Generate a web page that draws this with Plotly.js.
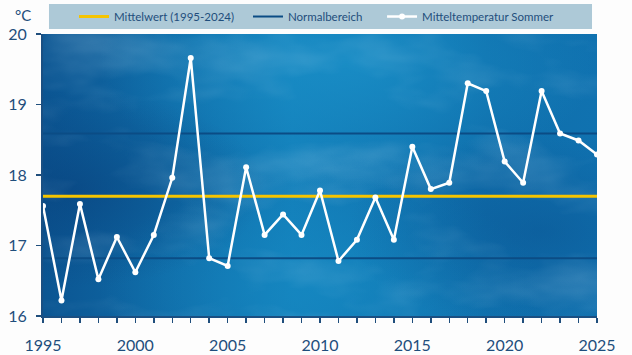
<!DOCTYPE html>
<html>
<head>
<meta charset="utf-8">
<script src="https://cdn.plot.ly/plotly-3.0.1.min.js"></script>
<style>html,body{margin:0;padding:0;background:#fdfdfd;}#chart{width:632px;height:355px;}</style>
</head>
<body>
<div id="chart"></div>
<script>
// ---- data ----
const years = [1995,1996,1997,1998,1999,2000,2001,2002,2003,2004,2005,2006,2007,2008,2009,2010,
               2011,2012,2013,2014,2015,2016,2017,2018,2019,2020,2021,2022,2023,2024,2025];
const summerTemp = [17.56,16.22,17.59,16.52,17.12,16.62,17.15,17.96,19.66,16.82,16.71,18.11,17.15,17.44,17.15,17.78,
                    16.78,17.08,17.68,17.08,18.40,17.80,17.89,19.30,19.19,18.19,17.89,19.19,18.59,18.49,18.29];
const spanYears = [1995, 2025];
const meanValue = 17.70;          // Mittelwert (1995-2024)
const normalLow = 16.82;          // Normalbereich untere Grenze
const normalHigh = 18.59;         // Normalbereich obere Grenze
const xTickVals = [1995,2000,2005,2010,2015,2020,2025];
const yTickVals = [16,17,18,19,20];
const names = ["Mittelwert (1995-2024)", "Normalbereich", "Mitteltemperatur Sommer"];

const textColor = '#1f4e7c';
const fontFam = 'Lato, "Open Sans", sans-serif';

// background image (cloudy blue sky)
const svg = `<svg xmlns='http://www.w3.org/2000/svg' width='554' height='282' viewBox='0 0 554 282' preserveAspectRatio='none'>
<defs>
<linearGradient id='g' x1='0' y1='0' x2='1' y2='0'>
<stop offset='0' stop-color='#0b5592'/>
<stop offset='0.45' stop-color='#137fba'/>
<stop offset='0.8' stop-color='#0f6eab'/>
<stop offset='1' stop-color='#1072b0'/>
</linearGradient>
<radialGradient id='r1' cx='0.55' cy='0.1' r='0.45'><stop offset='0' stop-color='#1a90c8' stop-opacity='0.8'/><stop offset='1' stop-color='#1a90c8' stop-opacity='0'/></radialGradient>
<radialGradient id='r2' cx='0.5' cy='0.9' r='0.4'><stop offset='0' stop-color='#168ac3' stop-opacity='0.7'/><stop offset='1' stop-color='#168ac3' stop-opacity='0'/></radialGradient>
<radialGradient id='r3' cx='0.05' cy='0.55' r='0.35'><stop offset='0' stop-color='#083f7a' stop-opacity='0.55'/><stop offset='1' stop-color='#083f7a' stop-opacity='0'/></radialGradient>
<radialGradient id='r4' cx='0.9' cy='0.7' r='0.35'><stop offset='0' stop-color='#0a5190' stop-opacity='0.5'/><stop offset='1' stop-color='#0a5190' stop-opacity='0'/></radialGradient>
<filter id='f' x='0' y='0' width='100%' height='100%'><feTurbulence type='fractalNoise' baseFrequency='0.008 0.018' numOctaves='4' seed='5'/><feColorMatrix values='0 0 0 0 0.75  0 0 0 0 0.9  0 0 0 0 1  0.4 0 0 0 -0.19'/></filter>
</defs>
<rect width='554' height='282' fill='url(#g)'/>
<rect width='554' height='282' fill='url(#r1)'/>
<rect width='554' height='282' fill='url(#r2)'/>
<rect width='554' height='282' fill='url(#r3)'/>
<rect width='554' height='282' fill='url(#r4)'/>
<rect width='554' height='282' filter='url(#f)'/>
</svg>`;
const bgUri = 'data:image/svg+xml;charset=utf-8,' + encodeURIComponent(svg);

const traces = [
  {
    x: spanYears, y: [meanValue, meanValue],
    type: 'scatter', mode: 'lines', name: names[0], legend: 'legend',
    line: {color: '#f5c400', width: 3}, hoverinfo: 'skip'
  },
  {
    x: [spanYears[0], spanYears[1], null, spanYears[0], spanYears[1]],
    y: [normalLow, normalLow, null, normalHigh, normalHigh],
    type: 'scatter', mode: 'lines', name: names[1], legend: 'legend2',
    line: {color: '#0b4c85', width: 2}, hoverinfo: 'skip'
  },
  {
    x: years, y: summerTemp,
    type: 'scatter', mode: 'lines+markers', name: names[2], legend: 'legend3',
    line: {color: '#ffffff', width: 2.5},
    marker: {color: '#ffffff', size: 6},
    hoverinfo: 'skip'
  }
];

const legendBase = {
  orientation: 'h', yanchor: 'middle', xanchor: 'left', y: 1.062,
  bgcolor: 'rgba(0,0,0,0)', font: {family: fontFam, size: 11.5, color: textColor},
  itemwidth: 30, tracegroupgap: 0
};

const layout = {
  width: 632, height: 355,
  margin: {l: 43, r: 35, t: 34, b: 39, pad: 0, autoexpand: false},
  paper_bgcolor: '#fdfdfd',
  plot_bgcolor: '#0f6aa8',
  font: {family: fontFam, color: textColor},
  showlegend: true,
  legend: Object.assign({}, legendBase, {x: 0.056}),
  legend2: Object.assign({}, legendBase, {x: 0.370}),
  legend3: Object.assign({}, legendBase, {x: 0.612}),
  xaxis: {
    range: [1995, 2025], tickvals: xTickVals, ticktext: xTickVals.map(String),
    ticks: 'outside', ticklen: 5, tickwidth: 1.5, tickcolor: textColor,
    minor: {dtick: 1, tick0: 1995, ticks: 'outside', ticklen: 5, tickwidth: 1.5, tickcolor: textColor, showgrid: false},
    showline: true, linecolor: '#1a4f82', linewidth: 2,
    showgrid: false, zeroline: false, fixedrange: true,
    tickfont: {family: fontFam, size: 16, color: textColor},
    ticklabelstandoff: 9
  },
  yaxis: {
    range: [16, 20], tickvals: yTickVals,
    ticks: 'outside', ticklen: 5, tickwidth: 1.5, tickcolor: textColor,
    showline: true, linecolor: '#1a4f82', linewidth: 2,
    showgrid: false, zeroline: false, fixedrange: true,
    tickfont: {family: fontFam, size: 16, color: textColor},
    ticklabelstandoff: 6
  },
  images: [{
    source: bgUri, xref: 'paper', yref: 'paper', x: 0, y: 1, sizex: 1, sizey: 1,
    xanchor: 'left', yanchor: 'top', sizing: 'stretch', layer: 'below'
  }],
  shapes: [{
    type: 'rect', xref: 'paper', yref: 'paper', layer: 'below',
    x0: 0.0108, x1: 0.991, y0: 1.0177, y1: 1.1064,
    fillcolor: '#adc9d7', line: {width: 0}
  }],
  annotations: [{
    text: '°C', xref: 'paper', yref: 'paper', x: -0.036, y: 1.066,
    xanchor: 'center', yanchor: 'middle', showarrow: false,
    font: {family: fontFam, size: 15, color: textColor}
  }]
};

Plotly.newPlot('chart', traces, layout, {displayModeBar: false, staticPlot: true});
</script>
</body>
</html>
